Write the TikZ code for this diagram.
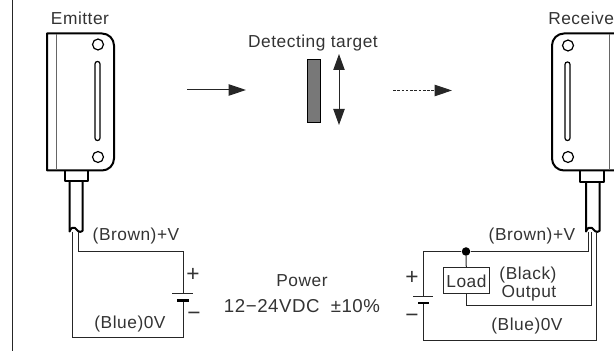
\documentclass[tikz,border=0pt]{standalone}
\usepackage{fontspec}
\setmainfont[LetterSpace=3]{Liberation Sans}
\usepackage{tikz}
\usetikzlibrary{arrows.meta}

\definecolor{labelgray}{HTML}{333333}

\begin{document}
\begin{tikzpicture}[x=0.75pt, y=-0.75pt, label/.style={inner sep=0pt, text=labelgray, font=\fontsize{13}{15}\selectfont}, sign/.style={inner sep=0pt, text=labelgray, font=\fontsize{17}{19}\selectfont}, wire/.style={draw=black!85, line width=0.75pt}, body/.style={draw=black, line width=1.5pt, line join=round}, strip/.style={draw=black!60, line width=0.9pt}, hole/.style={draw=black, line width=0.9pt, fill=white, circle, inner sep=0pt, minimum size=8.2pt}, slot/.style={draw=black, line width=0.9pt, rounded corners=1.8pt}, beam/.style={draw=black!85, line width=0.75pt, -{Triangle[length=13pt, width=8.5pt]}}]

\useasboundingbox (0, 0) rectangle (614, 352);

\draw [line width=1.1pt, black!85] (12.5, 0) -- (12.5, 351);

% emitter
\draw [body] (47, 33.5) -- (102, 33.5) [rounded corners=9pt] -- (114, 33.5) -- (114, 170.5) [sharp corners] -- (47, 170.5) -- cycle;
\draw [strip] (56.5, 34) -- (56.5, 170);
\node[hole] (emithole1) at (98, 44.5) {};
\node[hole] (emithole2) at (98, 157) {};
\draw [slot] (95, 61.5) rectangle (100, 140.5);
\draw [body, line width=1.2pt] (65, 170.5) rectangle (88, 181);
\draw [body] (69.5, 181) -- (69.5, 231.5) .. controls (71, 228) and (73, 226.5) .. (75, 228) .. controls (77, 230) and (79, 233.5) .. (82.5, 231) -- (82.5, 181);

% receiver
\draw [body] (618, 33.5) -- (568, 33.5) [rounded corners=9pt] -- (552, 33.5) -- (552, 170.5) [sharp corners] -- (618, 170.5);
\draw [strip] (609.5, 34) -- (609.5, 170);
\node[hole] (recvhole1) at (568, 45.5) {};
\node[hole] (recvhole2) at (568, 157) {};
\draw [slot] (565, 62) rectangle (570, 140.5);
\draw [body, line width=1.2pt] (580, 170.5) rectangle (604, 182);
\draw [body] (586, 182) -- (586, 231.5) .. controls (587.5, 228) and (589.5, 226.5) .. (592, 228) .. controls (594, 230) and (596, 233.5) .. (599.5, 231) -- (599.5, 182);

\node[label] (emitter) at (80, 18) {Emitter};
\node[label, anchor=west] (receiver) at (548, 18) {Receive};
\node[label] (target) at (313, 43) {Detecting target};
\node[label] (power) at (302, 281) {Power};
\node[label, font=\fontsize{14}{16}\selectfont] (voltage) at (302, 306) {12−24VDC\hspace{4pt} ±10\%};
\node[label] (emitbrown) at (136, 236) {(Brown)+V};
\node[label] (emitblue) at (130, 324) {(Blue)0V};
\node[label] (recvbrown) at (532, 236) {(Brown)+V};
\node[label] (recvblack) at (528, 275) {(Black)};
\node[label] (recvoutput) at (529, 293) {Output};
\node[label] (recvblue) at (527, 326) {(Blue)0V};
\node[sign] (emitplus) at (193, 275) {+};
\node[sign] (emitminus) at (194, 316) {−};
\node[sign] (recvplus) at (412, 278) {+};
\node[sign] (recvminus) at (412, 318) {−};

% target and beams
\node[draw=black, line width=1.1pt, fill=black!53, minimum width=10pt, minimum height=47pt, inner sep=0pt] (block) at (314, 91) {};
\coordinate (beamin1) at (187, 90);
\coordinate (beamin2) at (246, 90);
\coordinate (beamout1) at (393, 90.5);
\coordinate (beamout2) at (452, 90.5);
\coordinate (movetop) at (339, 54);
\coordinate (movebot) at (339, 125);
\draw [beam] (beamin1) -- (beamin2);
\draw [beam, dash pattern=on 2pt off 1.2pt] (beamout1) -- (beamout2);
\draw [wire, {Triangle[length=12pt, width=8.5pt]}-{Triangle[length=12pt, width=8.5pt]}] (movetop) -- (movebot);

% emitter wiring
\coordinate (ecblue) at (72, 232);
\coordinate (ecbrown) at (78, 232);
\coordinate (ebatplus) at (183, 293.5);
\coordinate (ebatminus) at (183, 300.5);
\draw [wire] (ecbrown) |- (183, 252) -- (ebatplus);
\draw [wire] (ecblue) |- (183, 338) -- (ebatminus);
\draw [wire] (172, 293.5) -- (193, 293.5);
\draw [line width=1.6pt] (177, 300.5) -- (189, 300.5);

% receiver wiring
\node[draw=black!85, line width=0.75pt, minimum width=34.5pt, minimum height=19.5pt, inner sep=0pt, label] (load) at (466.5, 281) {Load};
\node[fill=black, circle, inner sep=0pt, minimum size=6.4pt] (dot) at (466, 251.5) {};
\coordinate (rcbrown) at (588, 232);
\coordinate (rcoutput) at (591.7, 232);
\coordinate (rcblue) at (596.7, 232);
\coordinate (rbatplus) at (423, 296.5);
\coordinate (rbatminus) at (423, 303);
\draw [wire] (rcbrown) |- (dot);
\draw [wire] (dot) -| (rbatplus);
\draw [wire] (dot) -- (load);
\draw [wire] (load.south -| dot) |- (rcoutput |- 0, 306) -- (rcoutput);
\draw [wire] (rcblue) |- (423, 341) -- (rbatminus);
\draw [wire] (413, 296.5) -- (433, 296.5);
\draw [line width=1.6pt] (418, 303) -- (429, 303);

\end{tikzpicture}
\end{document}
